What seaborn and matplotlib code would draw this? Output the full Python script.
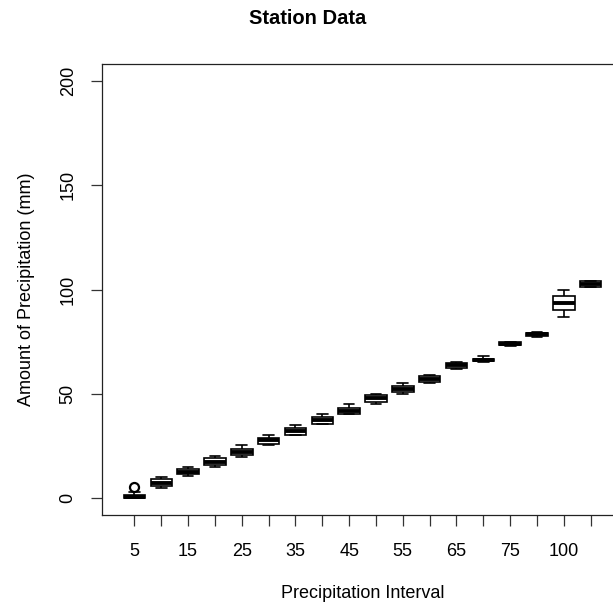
import pandas as pd
import seaborn as sns
import matplotlib.pyplot as plt

# precipitation interval categories and box summaries
intervals = ["5", "10", "15", "20", "25", "30", "35", "40", "45", "50",
             "55", "60", "65", "70", "75", "80", "100", "105"]
lower = [0.0, 4.8, 10.7, 15.0, 19.7, 25.3, 30.1, 35.5, 40.2, 45.3,
         50.0, 55.4, 62.0, 65.4, 73.0, 77.3, 86.9, 101.0]
q1 = [0.0, 5.8, 11.8, 15.8, 20.6, 26.2, 30.5, 35.8, 40.6, 46.0,
      50.8, 55.8, 62.6, 65.7, 73.3, 77.6, 90.4, 101.3]
median = [0.8, 7.5, 12.8, 17.5, 22.2, 28.0, 32.2, 37.3, 42.0, 48.0,
          52.3, 57.2, 64.0, 66.3, 74.1, 78.5, 93.6, 102.8]
q3 = [1.8, 9.1, 14.0, 19.1, 23.8, 29.0, 33.8, 38.9, 43.4, 49.5,
      54.0, 58.6, 65.0, 66.8, 74.8, 79.4, 96.7, 104.0]
upper = [3.0, 10.4, 15.0, 20.2, 25.3, 30.1, 35.0, 40.2, 45.0, 50.0,
         55.3, 59.0, 65.3, 68.0, 75.0, 79.6, 99.6, 104.2]
outliers = {"5": 5.2}

# expand each summary into a small sample with the same quartiles
rows = []
for i, lab in enumerate(intervals):
    last = outliers.get(lab, upper[i])
    vals = [lower[i], q1[i], q1[i], median[i], median[i], q3[i], q3[i], upper[i], last]
    for v in vals:
        rows.append({"interval": lab, "precip": v})
df = pd.DataFrame(rows)

sns.set_style("white")
plt.rcParams["font.family"] = ["Liberation Sans", "DejaVu Sans"]
plt.rcParams["text.color"] = "black"
plt.rcParams["axes.labelcolor"] = "black"
plt.rcParams["xtick.color"] = "black"
plt.rcParams["ytick.color"] = "black"

fig = plt.figure(figsize=(6.13, 6.12), dpi=100)
ax = fig.add_axes([101.7 / 613, (612 - 515) / 612, (623.4 - 101.7) / 613, (515 - 64) / 612])

sns.boxplot(data=df, x="interval", y="precip", order=intervals, ax=ax,
            color="white", linecolor="black", linewidth=1.2, width=0.8, whis=1.5,
            medianprops=dict(linewidth=2.8, color="black"),
            flierprops=dict(marker="o", markerfacecolor="none", markeredgecolor="black",
                            markersize=6.5, markeredgewidth=1.6))

ax.set_xlim(-1.22, 18.22)
ax.set_ylim(-8, 208)
ax.set_yticks([0, 50, 100, 150, 200])
ax.set_yticklabels(["0", "50", "100", "150", "200"], rotation=90, va="center")
ax.set_xticks(range(len(intervals)))
ax.set_xticklabels([lab if i % 2 == 0 else "" for i, lab in enumerate(intervals)])

ax.tick_params(axis="both", which="both", direction="out", length=8, width=0.9,
               color="#333333", labelsize=13, left=True, bottom=True)
ax.tick_params(axis="x", pad=12)
ax.tick_params(axis="y", pad=10)
for s in ax.spines.values():
    s.set_color("#222222")
    s.set_linewidth(0.9)

ax.set_xlabel("Precipitation Interval", fontsize=13, labelpad=18)
ax.set_ylabel("Amount of Precipitation (mm)", fontsize=13, labelpad=18)
fig.text(308 / 613, 1 - 18.5 / 612, "Station Data", ha="center", va="center",
         fontsize=14.5, fontweight="bold")

fig.savefig("out.png", dpi=100)
